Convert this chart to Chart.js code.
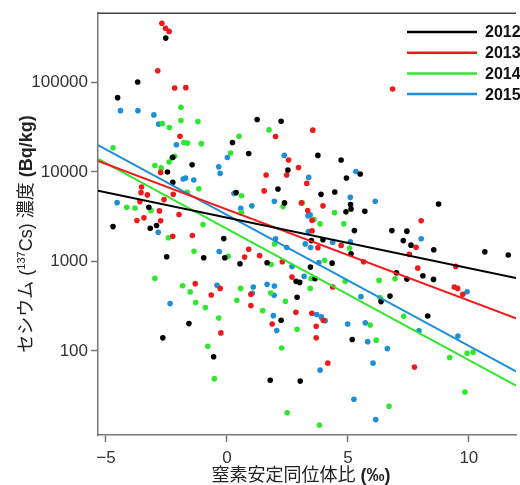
<!DOCTYPE html>
<html>
<head>
<meta charset="utf-8">
<script src="https://cdn.jsdelivr.net/npm/chart.js@4.4.1/dist/chart.umd.min.js"></script>
<style>
  html, body { margin: 0; padding: 0; background: #fff; }
</style>
</head>
<body>
<canvas id="chart" width="520" height="485"></canvas>
<script>
const years = ['2012', '2013', '2014', '2015'];
const colors = ['#000000', '#f01a1a', '#2ee82e', '#1e8fd5'];

// 2012
const x2012 = [-2.53, -3.69, -4.52, 1.25, 2.24, 0.23, 0.90, -2.24, -1.44, -2.46, -2.24, 0.38, -3.23, -4.71, -3.17, -2.91, -0.13, -2.49, -0.96, -0.09, -1.57, -2.65, -0.55,
  3.76, 4.72, 2.52, 5.51, 4.94, 2.11, 3.89, 4.46, 2.38, 5.11, 5.13, 4.92, 5.70, 5.27, 3.97, 3.49, 0.54, 1.66, 3.45, 2.86, 3.01, 3.64,
  8.75, 6.82, 7.44, 7.29, 7.61, 8.55, 10.66, 11.63, 7.01, 7.44, 8.10, 8.54, 2.90, 2.24, 5.18, 1.79, 3.03, 6.74, 6.37, 8.30, 5.13, 4.35];
const y2012 = [313000, 101000, 67600, 38500, 36900, 21300, 16100, 14600, 12000, 10000, 7640, 5880, 4030, 2450, 2350, 2520, 1800, 1130, 1100, 1100, 202, 140, 86,
  15300, 13600, 10500, 9480, 8550, 6460, 5620, 5970, 4510, 4320, 3860, 3580, 3630, 2210, 1750, 1710, 943, 968, 864, 599, 583, 641,
  4390, 2210, 2180, 1710, 1520, 1350, 1280, 1180, 748, 635, 693, 630, 397, 220, 134, 47, 46, 410, 356, 246, 1220, 957];

// 2013
const x2013 = [-2.69, -2.54, -2.39, -2.86, -2.16, -1.70, 6.85, 2.01, -1.94, 3.55, -2.74, -3.53, -3.55, -3.29, -2.22, -3.60, -2.60, -2.79, -1.98, -3.72, -3.43, -2.74,
  -2.24, -1.43, -1.31, -0.28, 2.55, 2.96, 2.47, 1.62, 3.30, 1.54, 3.08, 3.97, 3.34, 3.52, 3.52, 3.76, 4.72, 0.90, 0.73, 1.35, 2.29, 2.69, 4.37,
  8.03, 7.82, 7.54, 7.89, 9.46, 9.40, 9.54, -0.65, -0.25, 0.99, 0.99, 2.85, 3.51, 3.98, 1.87, 3.69, 3.69, 4.17, 9.75, 7.75, 5.65];
const y2013 = [459000, 404000, 372000, 135000, 86700, 87500, 84500, 24900, 25100, 29300, 9880, 6790, 5870, 5540, 5620, 4660, 4910, 3670, 3340, 2870, 3070, 2840,
  1910, 1950, 565, 500, 13600, 11200, 9250, 9250, 7450, 6140, 4510, 4180, 3700, 2890, 2200, 1420, 1510, 1370, 1120, 1160, 993, 668, 518,
  2840, 1440, 1200, 842, 880, 518, 500, 421, 159, 429, 321, 270, 264, 220, 200, 189, 140, 73, 429, 66, 993];

// 2014
const x2014 = [-1.90, -1.90, -1.20, -2.67, -2.38, 1.74, 0.50, -1.78, -1.63, -1.06, -4.71, 0.15, -2.16, -2.27, -2.39, -2.98, -2.72, -1.16, -1.64, -4.14, -3.80, -3.14,
  -0.99, -2.42, -1.36, 0.05, -2.98, -1.83, -1.52, 0.60, 0.60, 2.32, 3.12, 4.45, 3.60, 3.85, 4.83, 1.97, 5.07, 1.83, 4.04, 3.48, 0.57, 3.44, 4.89,
  6.29, 6.95, 0.41, -1.29, -0.89, -0.34, -0.79, -0.52, 1.81, 2.42, 1.48, 2.90, 5.92, 6.17, 2.26, 2.49, 3.82, 6.33, 7.31, 9.21, 9.93, 10.18, 9.84, 6.70];
const y2014 = [52800, 37500, 36500, 34700, 31400, 29500, 25100, 21300, 21000, 20700, 18600, 16300, 15000, 14300, 12900, 11800, 11100, 6500, 5920, 4030, 3960, 3700,
  2580, 1840, 1300, 1140, 647, 536, 457, 5430, 3540, 4100, 4510, 3510, 2940, 2630, 2630, 1570, 1410, 926, 1030, 641, 500, 500, 599,
  614, 641, 368, 347, 305, 233, 113, 49, 444, 358, 282, 175, 195, 132, 108, 20.4, 14.9, 394, 244, 84.5, 94.4, 96.8, 34.8, 24.1];

// 2015
const x2015 = [-4.40, -3.68, -3.02, -2.82, -2.09, 0.02, -0.34, -0.28, -1.81, -1.71, -1.37, 0.29, -4.54, -2.84, -0.32, -0.41,
  2.37, 3.38, 5.33, 5.10, 6.13, 0.57, 1.03, 1.96, 3.35, 3.44, 3.37, 2.01, 2.47, 3.24, 3.46, 4.37, 5.10, 2.69, 3.80, 3.19, 1.09, 1.66, 1.96,
  8.03, 9.93, -2.35, 1.05, 1.95, 1.92, 2.06, 3.71, 3.90, 4.06, 5.54, 4.99, 5.72, 5.82, 3.85, 6.04, 5.25, 6.15, 7.94, 9.55, 6.63];
const y2015 = [48400, 48400, 43400, 34200, 20100, 14500, 11400, 9640, 8340, 8550, 8130, 5730, 4540, 2120, 1290, 541,
  15300, 8690, 10100, 5200, 4700, 3930, 4180, 4700, 3230, 3310, 2160, 1790, 1430, 1570, 1430, 1640, 1660, 880, 975, 681, 518, 555, 531,
  1790, 459, 338, 441, 418, 248, 169, 255, 240, 218, 404, 200, 206, 127, 61, 73, 28.8, 17.1, 168, 147, 106];

// regression lines, values at the left and right edge of the plot
const fitX = [-5.33, 11.95];
const fit2012 = [6150, 653];
const fit2013 = [13300, 231];
const fit2014 = [14000, 41];
const fit2015 = [20000, 59];

const xTicks = [-5, 0, 5, 10];
const yTicks = [100, 1000, 10000, 100000];

const pointsX = [x2012, x2013, x2014, x2015];
const pointsY = [y2012, y2013, y2014, y2015];
const fits = [fit2012, fit2013, fit2014, fit2015];

const latin = '"Liberation Sans", Arial, "Noto Sans CJK JP", sans-serif';

let datasets = [];
for (let i = 0; i < years.length; i++) {
  datasets.push({
    type: 'line',
    label: years[i],
    data: fitX.map((x, j) => ({ x: x, y: fits[i][j] })),
    borderColor: colors[i],
    borderWidth: 2,
    pointRadius: 0,
    fill: false,
    order: 0,
  });
}
for (let i = 0; i < years.length; i++) {
  datasets.push({
    type: 'scatter',
    label: years[i] + ' pts',
    data: pointsX[i].map((x, j) => ({ x: x, y: pointsY[i][j] })),
    backgroundColor: colors[i],
    pointRadius: 2.8,
    pointBorderWidth: 0,
    order: 1,
  });
}

// draws a row of text pieces with different fonts (bold, superscript)
function drawRich(ctx, parts, cx, cy, angle) {
  ctx.save();
  ctx.translate(cx, cy);
  ctx.rotate(angle);
  let total = 0;
  parts.forEach(p => { ctx.font = p.font; total += ctx.measureText(p.text).width; });
  let x = -total / 2;
  ctx.fillStyle = '#222';
  ctx.textBaseline = 'alphabetic';
  parts.forEach(p => {
    ctx.font = p.font;
    ctx.fillText(p.text, x, 6 + (p.shift || 0));
    x += ctx.measureText(p.text).width;
  });
  ctx.restore();
}

const framePlugin = {
  id: 'frame',
  afterDraw(chart) {
    const ctx = chart.ctx;
    const a = chart.chartArea;
    ctx.save();
    ctx.strokeStyle = '#444';
    ctx.lineWidth = 1.5;
    ctx.beginPath();
    ctx.moveTo(a.left, a.top);
    ctx.lineTo(a.right, a.top);
    ctx.stroke();

    // legend in the top right corner
    const lines = chart.data.datasets.filter(d => d.type == 'line');
    lines.forEach((d, i) => {
      const y = 32 + i * 20.7;
      ctx.strokeStyle = d.borderColor;
      ctx.lineWidth = 2.5;
      ctx.beginPath();
      ctx.moveTo(407, y);
      ctx.lineTo(477, y);
      ctx.stroke();
      ctx.fillStyle = '#111';
      ctx.font = 'bold 16px ' + latin;
      ctx.textBaseline = 'middle';
      ctx.fillText(d.label, 485, y + 1);
    });
    ctx.restore();

    // axis titles
    drawRich(ctx, [
      { text: '窒素安定同位体比 ', font: '18px ' + latin },
      { text: '(‰)', font: 'bold 18px ' + latin },
    ], 301, 475, 0);
    drawRich(ctx, [
      { text: 'セシウム (', font: '18px ' + latin },
      { text: '137', font: '11px ' + latin, shift: -7 },
      { text: 'Cs) 濃度 ', font: '18px ' + latin },
      { text: '(Bq/kg)', font: 'bold 18px ' + latin },
    ], 26, 234, -Math.PI / 2);
  },
};

const tickFont = { family: latin, size: 17 };

new Chart(document.getElementById('chart').getContext('2d'), {
  data: { datasets: datasets },
  options: {
    responsive: false,
    animation: false,
    layout: { padding: { top: 12, right: 0, bottom: 0, left: 0 } },
    plugins: {
      legend: { display: false },
      tooltip: { enabled: false },
    },
    scales: {
      x: {
        type: 'linear',
        min: -5.33,
        max: 11.95,
        afterBuildTicks: s => { s.ticks = xTicks.map(v => ({ value: v })); },
        afterFit: s => { s.height = 50; },
        grid: { drawOnChartArea: false, tickLength: 7, tickColor: '#777', tickWidth: 1.5 },
        border: { color: '#777', width: 1.5 },
        ticks: {
          color: '#333',
          font: tickFont,
          padding: 6,
          maxRotation: 0,
          callback: v => (v < 0 ? '\u2212' + Math.abs(v) : String(v)),
        },
      },
      y: {
        type: 'logarithmic',
        min: 11.5,
        max: 594000,
        afterBuildTicks: s => { s.ticks = yTicks.map(v => ({ value: v })); },
        afterFit: s => { s.width = 98; },
        grid: { drawOnChartArea: false, tickLength: 7, tickColor: '#777', tickWidth: 1.5 },
        border: { color: '#777', width: 1.5 },
        ticks: {
          color: '#333',
          font: tickFont,
          padding: 3,
          callback: v => String(v),
        },
      },
    },
  },
  plugins: [framePlugin],
});
</script>
</body>
</html>
